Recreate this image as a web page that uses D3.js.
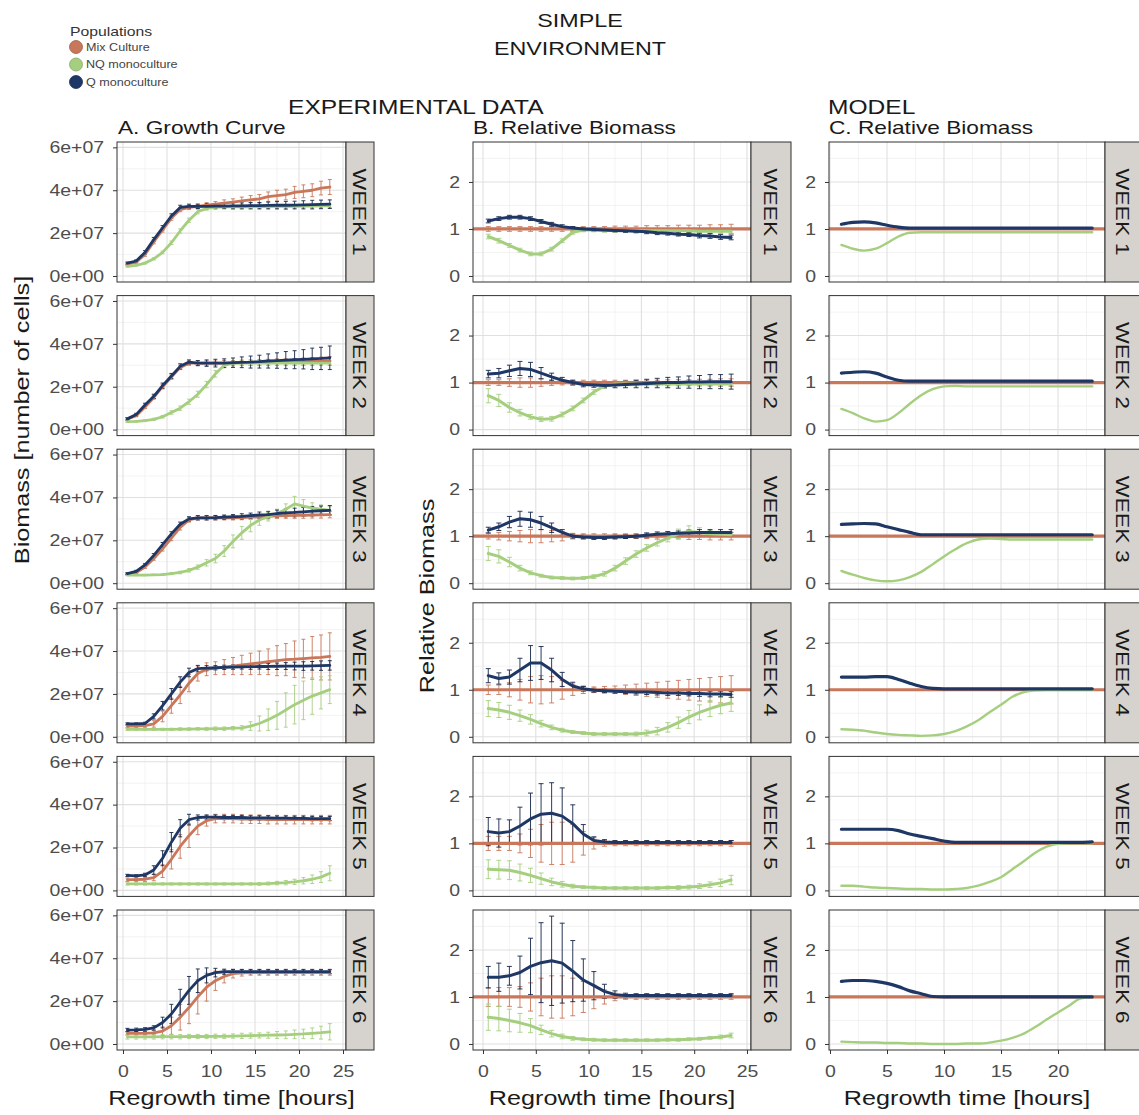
<!DOCTYPE html>
<html>
<head>
<meta charset="utf-8">
<script src="https://cdn.jsdelivr.net/npm/d3@7"></script>
<style>
  body { margin: 0; background: #fff; }
  svg { font-family: "Liberation Sans", Arial, sans-serif; }
</style>
</head>
<body>
<script>
"use strict";

// ---- data ----
const hoursExp = [0.5,1.5,2.5,3.5,4.5,5.5,6.5,7.5,8.5,9.5,10.5,11.5,12.5,13.5,14.5,15.5,16.5,17.5,18.5,19.5,20.5,21.5,22.5,23.5];
const hoursModel = [1,2,3,4,5,6,7,8,9,10,11,12,13,14,15,16,17,18,19,20,21,22,23];
const weekLabels = ["WEEK 1","WEEK 2","WEEK 3","WEEK 4","WEEK 5","WEEK 6"];
const populations = ["Mix Culture","NQ monoculture","Q monoculture"];
const popColors = ["#c8775a","#a5cf7f","#1e3765"];

const CELL_UNIT = 1e7; // growth values below are in 1e7 cells
const growthTicks = [0, 2e7, 4e7, 6e7];
const growthTickLabels = ["0e+00","2e+07","4e+07","6e+07"];
const relTicks = [0, 1, 2];
const hourTicksExp = [0, 5, 10, 15, 20, 25];
const hourTicksModel = [0, 5, 10, 15, 20];
const MIX_REL = 1;

// A. growth curve (mean, sd) per week
const growthMix = [
  [0.55,0.65,1.0,1.6,2.15,2.7,3.1,3.2,3.25,3.3,3.35,3.4,3.45,3.5,3.55,3.6,3.7,3.75,3.8,3.9,3.95,4.0,4.1,4.15],
  [0.5,0.65,1.05,1.5,2.0,2.45,2.9,3.1,3.1,3.1,3.1,3.1,3.1,3.12,3.12,3.13,3.14,3.15,3.15,3.16,3.17,3.18,3.19,3.2],
  [0.42,0.5,0.75,1.15,1.6,2.1,2.6,2.95,3.05,3.05,3.05,3.05,3.05,3.06,3.08,3.1,3.12,3.14,3.15,3.16,3.17,3.18,3.19,3.2],
  [0.5,0.5,0.52,0.6,0.95,1.45,1.95,2.5,2.95,3.15,3.2,3.25,3.3,3.35,3.4,3.45,3.5,3.55,3.6,3.62,3.65,3.68,3.7,3.75],
  [0.5,0.5,0.52,0.6,0.9,1.45,2.05,2.55,3.0,3.25,3.35,3.35,3.35,3.33,3.32,3.32,3.3,3.3,3.3,3.3,3.3,3.3,3.3,3.3],
  [0.5,0.5,0.5,0.52,0.6,0.85,1.25,1.7,2.2,2.65,2.95,3.15,3.28,3.32,3.33,3.33,3.33,3.33,3.33,3.33,3.33,3.33,3.33,3.33]
];
const growthMixSd = [
  [0.05,0.05,0.08,0.1,0.1,0.1,0.1,0.1,0.1,0.12,0.12,0.15,0.15,0.18,0.2,0.2,0.22,0.25,0.25,0.28,0.3,0.3,0.32,0.35],
  [0.05,0.05,0.07,0.08,0.1,0.1,0.1,0.1,0.1,0.1,0.1,0.12,0.12,0.12,0.13,0.13,0.14,0.15,0.15,0.16,0.17,0.18,0.19,0.2],
  [0.04,0.05,0.06,0.08,0.1,0.12,0.12,0.1,0.1,0.1,0.1,0.1,0.1,0.1,0.1,0.1,0.12,0.12,0.12,0.13,0.14,0.14,0.15,0.15],
  [0.08,0.08,0.1,0.15,0.25,0.35,0.4,0.4,0.35,0.3,0.3,0.35,0.4,0.45,0.5,0.55,0.6,0.7,0.75,0.85,0.9,1.0,1.05,1.1],
  [0.08,0.08,0.1,0.15,0.3,0.45,0.55,0.55,0.4,0.25,0.2,0.2,0.2,0.2,0.2,0.2,0.2,0.2,0.2,0.2,0.2,0.2,0.2,0.2],
  [0.08,0.08,0.08,0.1,0.2,0.4,0.6,0.75,0.8,0.65,0.45,0.3,0.2,0.15,0.12,0.12,0.12,0.12,0.12,0.12,0.12,0.12,0.12,0.12]
];
const growthNQ = [
  [0.45,0.5,0.6,0.8,1.1,1.55,2.1,2.6,3.0,3.15,3.2,3.22,3.22,3.23,3.23,3.24,3.24,3.25,3.25,3.25,3.26,3.26,3.27,3.27],
  [0.37,0.38,0.42,0.48,0.6,0.8,1.0,1.3,1.65,2.1,2.6,3.0,3.1,3.1,3.1,3.1,3.1,3.1,3.1,3.1,3.1,3.1,3.1,3.1],
  [0.38,0.38,0.38,0.39,0.4,0.45,0.5,0.6,0.75,0.95,1.15,1.5,1.95,2.35,2.7,2.95,3.1,3.25,3.45,3.7,3.6,3.5,3.45,3.4],
  [0.35,0.35,0.35,0.35,0.35,0.35,0.36,0.36,0.37,0.37,0.38,0.38,0.4,0.42,0.5,0.62,0.8,1.0,1.25,1.5,1.7,1.9,2.05,2.2],
  [0.3,0.3,0.3,0.3,0.3,0.3,0.3,0.3,0.3,0.3,0.3,0.3,0.3,0.3,0.3,0.3,0.32,0.34,0.36,0.4,0.45,0.52,0.62,0.8],
  [0.33,0.33,0.33,0.33,0.34,0.34,0.34,0.35,0.35,0.35,0.36,0.36,0.37,0.38,0.39,0.4,0.41,0.42,0.43,0.45,0.47,0.5,0.53,0.57]
];
const growthNQSd = [
  [0.03,0.03,0.04,0.05,0.06,0.08,0.1,0.1,0.1,0.08,0.08,0.08,0.08,0.08,0.08,0.08,0.08,0.08,0.08,0.08,0.08,0.08,0.08,0.08],
  [0.03,0.03,0.04,0.05,0.06,0.08,0.1,0.12,0.14,0.15,0.15,0.12,0.1,0.1,0.1,0.1,0.1,0.1,0.1,0.1,0.1,0.1,0.1,0.1],
  [0.03,0.03,0.03,0.03,0.04,0.05,0.06,0.08,0.1,0.15,0.2,0.25,0.3,0.3,0.3,0.25,0.2,0.2,0.25,0.35,0.3,0.25,0.2,0.2],
  [0.05,0.05,0.05,0.05,0.05,0.05,0.06,0.06,0.06,0.07,0.08,0.08,0.08,0.1,0.2,0.35,0.5,0.65,0.8,0.9,0.9,0.85,0.75,0.65],
  [0.05,0.05,0.05,0.05,0.05,0.05,0.05,0.05,0.05,0.05,0.05,0.05,0.05,0.05,0.05,0.06,0.07,0.08,0.1,0.12,0.15,0.2,0.25,0.35],
  [0.1,0.1,0.1,0.1,0.1,0.1,0.1,0.1,0.1,0.1,0.1,0.1,0.1,0.12,0.12,0.12,0.14,0.16,0.18,0.2,0.22,0.25,0.3,0.38]
];
const growthQ = [
  [0.6,0.7,1.1,1.7,2.25,2.8,3.2,3.25,3.25,3.25,3.26,3.26,3.27,3.27,3.28,3.28,3.29,3.3,3.3,3.31,3.32,3.33,3.34,3.35],
  [0.5,0.7,1.15,1.55,2.05,2.5,2.95,3.15,3.1,3.1,3.1,3.1,3.12,3.14,3.15,3.17,3.2,3.22,3.24,3.26,3.28,3.3,3.32,3.35],
  [0.45,0.55,0.85,1.3,1.8,2.3,2.75,3.0,3.05,3.05,3.06,3.08,3.1,3.12,3.15,3.18,3.2,3.25,3.28,3.3,3.33,3.36,3.38,3.4],
  [0.6,0.6,0.62,0.95,1.45,2.0,2.55,3.0,3.18,3.2,3.22,3.24,3.25,3.26,3.27,3.28,3.28,3.29,3.3,3.3,3.3,3.31,3.32,3.33],
  [0.7,0.68,0.72,0.95,1.5,2.25,2.9,3.3,3.4,3.42,3.42,3.4,3.4,3.4,3.38,3.38,3.38,3.37,3.37,3.36,3.36,3.35,3.35,3.35],
  [0.65,0.66,0.68,0.75,1.0,1.4,1.95,2.5,2.95,3.2,3.33,3.37,3.38,3.38,3.38,3.38,3.38,3.38,3.38,3.38,3.38,3.38,3.38,3.38]
];
const growthQSd = [
  [0.05,0.05,0.08,0.1,0.1,0.1,0.1,0.1,0.1,0.12,0.12,0.12,0.14,0.14,0.15,0.15,0.16,0.17,0.18,0.18,0.19,0.2,0.2,0.2],
  [0.05,0.06,0.08,0.1,0.12,0.12,0.12,0.1,0.12,0.15,0.18,0.2,0.22,0.25,0.28,0.3,0.33,0.36,0.4,0.42,0.45,0.5,0.52,0.55],
  [0.04,0.05,0.06,0.08,0.1,0.1,0.1,0.1,0.1,0.1,0.1,0.1,0.1,0.12,0.12,0.14,0.15,0.16,0.18,0.2,0.2,0.22,0.22,0.22],
  [0.05,0.05,0.06,0.12,0.2,0.25,0.25,0.2,0.15,0.12,0.1,0.1,0.1,0.1,0.12,0.12,0.14,0.15,0.16,0.18,0.2,0.2,0.22,0.22],
  [0.05,0.05,0.08,0.2,0.35,0.45,0.4,0.25,0.12,0.1,0.1,0.1,0.1,0.1,0.1,0.1,0.1,0.1,0.1,0.1,0.1,0.1,0.1,0.1],
  [0.08,0.08,0.08,0.1,0.25,0.45,0.6,0.65,0.55,0.35,0.2,0.12,0.1,0.1,0.1,0.1,0.1,0.1,0.1,0.1,0.1,0.1,0.1,0.1]
];

// B. relative biomass (mix mean is 1 by definition)
const relMixSd = [
  [0.05,0.05,0.05,0.05,0.05,0.05,0.05,0.05,0.05,0.05,0.05,0.05,0.06,0.06,0.06,0.07,0.07,0.07,0.08,0.08,0.08,0.09,0.09,0.1],
  [0.06,0.06,0.08,0.1,0.1,0.08,0.06,0.05,0.05,0.05,0.05,0.05,0.05,0.05,0.05,0.05,0.05,0.06,0.06,0.06,0.07,0.07,0.08,0.08],
  [0.06,0.08,0.1,0.12,0.14,0.14,0.12,0.1,0.06,0.05,0.05,0.05,0.05,0.05,0.05,0.05,0.06,0.06,0.06,0.07,0.07,0.08,0.08,0.08],
  [0.1,0.1,0.15,0.22,0.28,0.3,0.28,0.2,0.12,0.08,0.06,0.07,0.08,0.1,0.12,0.14,0.16,0.18,0.2,0.22,0.24,0.26,0.28,0.3],
  [0.15,0.15,0.15,0.2,0.3,0.4,0.45,0.45,0.4,0.25,0.12,0.06,0.05,0.05,0.05,0.05,0.05,0.05,0.05,0.05,0.05,0.05,0.05,0.06],
  [0.2,0.2,0.2,0.22,0.3,0.4,0.45,0.45,0.4,0.33,0.25,0.15,0.08,0.05,0.05,0.05,0.05,0.05,0.05,0.05,0.05,0.05,0.05,0.05]
];
const relNQ = [
  [0.84,0.75,0.65,0.55,0.47,0.47,0.57,0.75,0.93,0.98,0.98,0.97,0.97,0.97,0.96,0.96,0.96,0.96,0.96,0.96,0.95,0.95,0.95,0.95],
  [0.72,0.62,0.47,0.36,0.27,0.22,0.23,0.32,0.45,0.62,0.8,0.93,0.97,0.97,0.97,0.97,0.97,0.97,0.97,0.97,0.97,0.97,0.97,0.97],
  [0.63,0.57,0.45,0.32,0.22,0.16,0.12,0.11,0.1,0.11,0.14,0.2,0.32,0.47,0.62,0.75,0.86,0.96,1.05,1.1,1.08,1.05,1.04,1.03],
  [0.6,0.57,0.52,0.45,0.37,0.28,0.2,0.14,0.1,0.08,0.06,0.06,0.06,0.06,0.06,0.08,0.12,0.2,0.3,0.42,0.52,0.6,0.67,0.72],
  [0.45,0.44,0.43,0.38,0.32,0.25,0.18,0.13,0.09,0.07,0.06,0.05,0.05,0.05,0.05,0.05,0.05,0.06,0.06,0.07,0.09,0.12,0.16,0.22],
  [0.57,0.54,0.5,0.45,0.39,0.3,0.22,0.16,0.12,0.1,0.09,0.08,0.08,0.08,0.08,0.08,0.08,0.09,0.09,0.1,0.11,0.13,0.15,0.18]
];
const relNQSd = [
  [0.05,0.05,0.04,0.04,0.04,0.04,0.04,0.04,0.04,0.04,0.04,0.04,0.04,0.04,0.04,0.04,0.04,0.04,0.04,0.04,0.04,0.04,0.04,0.04],
  [0.15,0.13,0.1,0.07,0.05,0.05,0.05,0.05,0.05,0.05,0.05,0.05,0.04,0.04,0.04,0.04,0.04,0.04,0.04,0.04,0.04,0.04,0.04,0.04],
  [0.15,0.14,0.1,0.06,0.04,0.03,0.03,0.03,0.03,0.03,0.04,0.05,0.06,0.07,0.07,0.07,0.07,0.08,0.1,0.12,0.1,0.07,0.06,0.05],
  [0.17,0.16,0.15,0.12,0.1,0.07,0.05,0.04,0.03,0.03,0.03,0.03,0.03,0.03,0.04,0.06,0.08,0.1,0.12,0.14,0.16,0.17,0.18,0.18],
  [0.2,0.2,0.2,0.18,0.15,0.12,0.08,0.06,0.04,0.03,0.03,0.03,0.03,0.03,0.03,0.03,0.03,0.03,0.04,0.04,0.05,0.06,0.08,0.1],
  [0.28,0.26,0.24,0.2,0.15,0.1,0.07,0.05,0.04,0.03,0.03,0.03,0.03,0.03,0.03,0.03,0.03,0.03,0.03,0.03,0.03,0.03,0.04,0.05]
];
const relQ = [
  [1.17,1.22,1.25,1.25,1.22,1.16,1.1,1.05,1.02,1.0,0.99,0.98,0.97,0.96,0.95,0.94,0.92,0.91,0.89,0.88,0.86,0.85,0.83,0.82],
  [1.18,1.2,1.25,1.3,1.28,1.2,1.12,1.05,1.0,0.96,0.95,0.94,0.95,0.96,0.97,0.98,0.99,1.0,1.0,1.01,1.01,1.02,1.02,1.02],
  [1.13,1.2,1.3,1.37,1.35,1.28,1.18,1.08,1.0,0.98,0.97,0.97,0.98,0.99,1.0,1.02,1.04,1.05,1.06,1.07,1.08,1.08,1.08,1.08],
  [1.3,1.24,1.27,1.42,1.57,1.57,1.42,1.22,1.08,1.02,0.99,0.98,0.97,0.96,0.95,0.95,0.94,0.93,0.93,0.92,0.92,0.91,0.91,0.9],
  [1.25,1.22,1.25,1.37,1.52,1.62,1.64,1.58,1.42,1.2,1.06,1.03,1.02,1.02,1.02,1.02,1.02,1.02,1.02,1.02,1.02,1.02,1.02,1.02],
  [1.42,1.42,1.45,1.52,1.65,1.73,1.77,1.72,1.55,1.36,1.24,1.12,1.05,1.03,1.03,1.03,1.03,1.03,1.03,1.03,1.03,1.03,1.03,1.03]
];
const relQSd = [
  [0.04,0.04,0.04,0.04,0.04,0.04,0.04,0.04,0.03,0.03,0.03,0.03,0.03,0.03,0.03,0.04,0.04,0.04,0.04,0.04,0.05,0.05,0.05,0.05],
  [0.08,0.1,0.12,0.15,0.15,0.12,0.08,0.06,0.05,0.05,0.05,0.05,0.06,0.07,0.08,0.09,0.1,0.11,0.12,0.13,0.14,0.15,0.15,0.16],
  [0.06,0.08,0.12,0.16,0.16,0.14,0.1,0.06,0.04,0.04,0.04,0.04,0.04,0.04,0.04,0.05,0.05,0.05,0.05,0.06,0.06,0.06,0.06,0.06],
  [0.15,0.12,0.15,0.25,0.37,0.35,0.25,0.15,0.08,0.05,0.04,0.04,0.04,0.04,0.04,0.05,0.05,0.05,0.05,0.05,0.06,0.06,0.06,0.06],
  [0.3,0.3,0.25,0.4,0.55,0.65,0.65,0.6,0.4,0.2,0.08,0.05,0.04,0.04,0.04,0.04,0.04,0.04,0.04,0.04,0.04,0.04,0.04,0.04],
  [0.23,0.3,0.2,0.35,0.6,0.85,0.95,0.85,0.65,0.45,0.3,0.15,0.08,0.05,0.04,0.04,0.04,0.04,0.04,0.04,0.04,0.04,0.04,0.04]
];

// C. model relative biomass
const modelNQ = [
  [0.66,0.58,0.54,0.58,0.7,0.84,0.92,0.93,0.93,0.93,0.93,0.93,0.93,0.93,0.93,0.93,0.93,0.93,0.93,0.93,0.93,0.93,0.93],
  [0.44,0.35,0.24,0.17,0.2,0.35,0.55,0.73,0.86,0.92,0.93,0.92,0.92,0.92,0.92,0.92,0.92,0.92,0.92,0.92,0.92,0.92,0.92],
  [0.26,0.18,0.11,0.06,0.04,0.06,0.13,0.24,0.4,0.57,0.72,0.85,0.93,0.95,0.94,0.93,0.93,0.93,0.93,0.93,0.93,0.93,0.93],
  [0.16,0.15,0.13,0.09,0.06,0.04,0.03,0.02,0.03,0.06,0.12,0.22,0.35,0.52,0.68,0.85,0.95,0.99,1.0,1.0,1.0,1.0,1.0],
  [0.1,0.1,0.08,0.06,0.05,0.04,0.03,0.03,0.02,0.02,0.03,0.05,0.1,0.18,0.28,0.45,0.62,0.8,0.93,0.99,1.0,1.0,1.0],
  [0.05,0.04,0.03,0.03,0.02,0.02,0.01,0.01,0.0,0.0,0.0,0.01,0.01,0.03,0.07,0.13,0.22,0.36,0.52,0.67,0.82,0.97,1.0]
];
const modelQ = [
  [1.1,1.14,1.15,1.13,1.08,1.04,1.02,1.02,1.02,1.02,1.02,1.02,1.02,1.02,1.02,1.02,1.02,1.02,1.02,1.02,1.02,1.02,1.02],
  [1.2,1.22,1.23,1.2,1.12,1.05,1.03,1.03,1.03,1.03,1.03,1.03,1.03,1.03,1.03,1.03,1.03,1.03,1.03,1.03,1.03,1.03,1.03],
  [1.25,1.26,1.27,1.26,1.2,1.14,1.08,1.03,1.03,1.03,1.03,1.03,1.03,1.03,1.03,1.03,1.03,1.03,1.03,1.03,1.03,1.03,1.03],
  [1.27,1.27,1.27,1.28,1.28,1.22,1.14,1.07,1.03,1.02,1.02,1.02,1.02,1.02,1.02,1.02,1.02,1.02,1.02,1.02,1.02,1.02,1.02],
  [1.3,1.3,1.3,1.3,1.3,1.27,1.2,1.15,1.1,1.05,1.02,1.02,1.02,1.02,1.02,1.02,1.02,1.02,1.02,1.02,1.02,1.02,1.03],
  [1.33,1.35,1.35,1.33,1.29,1.22,1.13,1.07,1.01,1.0,1.0,1.0,1.0,1.0,1.0,1.0,1.0,1.0,1.0,1.0,1.0,1.0,1.0]
];

// ---- layout ----
const STRETCH = 1.26;      // text in the reference is drawn wide
const TICK_STRETCH = 1.18;
const ROW_TOP = 142, ROW_STEP = 153.6, PANEL_H = 140;

const columns = [
  { key: "A", x0: 117, x1: 346, stripW: 28, xDomain: [-0.68, 25.34], xTicks: hourTicksExp,
    xMinor: [2.5, 7.5, 12.5, 17.5, 22.5], yDomain: [-0.28e7, 6.25e7], yTicks: growthTicks,
    yMinor: [1e7, 3e7, 5e7], yFormat: (d, i) => growthTickLabels[i] },
  { key: "B", x0: 473, x1: 751, stripW: 40, xDomain: [-0.947, 25.38], xTicks: hourTicksExp,
    xMinor: [2.5, 7.5, 12.5, 17.5, 22.5], yDomain: [-0.128, 2.85], yTicks: relTicks,
    yMinor: [0.5, 1.5, 2.5], yFormat: d => d },
  { key: "C", x0: 829, x1: 1105, stripW: 36, xDomain: [-0.088, 24.12], xTicks: hourTicksModel,
    xMinor: [2.5, 7.5, 12.5, 17.5, 22.5], yDomain: [-0.128, 2.85], yTicks: relTicks,
    yMinor: [0.5, 1.5, 2.5], yFormat: d => d }
];

const svg = d3.select("body").append("svg")
  .attr("width", 1139).attr("height", 1115);
const defs = svg.append("defs");

function label(parent, text, x, y, opt) {
  opt = opt || {};
  return parent.append("text")
    .attr("transform", `translate(${x},${y}) rotate(${opt.rotate || 0}) scale(${opt.stretch || STRETCH},1)`)
    .attr("text-anchor", opt.anchor || "start")
    .attr("dominant-baseline", opt.baseline || "auto")
    .style("font-size", (opt.size || 18) + "px")
    .attr("fill", opt.color || "#1a1a1a")
    .text(text);
}

function errorBars(g, x, y, pts, color, cap, width) {
  g.append("g")
    .attr("stroke", color).attr("stroke-width", width).attr("fill", "none")
    .selectAll("path").data(pts).join("path")
    .attr("d", d => {
      const xx = x(d.t), lo = y(d.m - d.s), hi = y(d.m + d.s);
      return `M${xx},${lo}V${hi}M${xx - cap},${lo}H${xx + cap}M${xx - cap},${hi}H${xx + cap}`;
    });
}

function meanLine(g, x, y, pts, color, width, curve) {
  g.append("path").datum(pts)
    .attr("fill", "none").attr("stroke", color).attr("stroke-width", width)
    .attr("stroke-linejoin", "round").attr("stroke-linecap", "round")
    .attr("d", d3.line().x(d => x(d.t)).y(d => y(d.m)).curve(curve || d3.curveLinear));
}

function zipSeries(times, means, sds, k) {
  return times.map((t, i) => ({ t, m: means[i] * k, s: sds ? sds[i] * k : 0 }));
}

weekLabels.forEach((week, w) => {
  const top = ROW_TOP + ROW_STEP * w;
  const bottom = top + PANEL_H;

  columns.forEach(col => {
    const x = d3.scaleLinear().domain(col.xDomain).range([col.x0, col.x1]);
    const y = d3.scaleLinear().domain(col.yDomain).range([bottom, top]);
    const g = svg.append("g");
    const clipId = `clip-${col.key}-${w}`;
    defs.append("clipPath").attr("id", clipId).append("rect")
      .attr("x", col.x0).attr("y", top).attr("width", col.x1 - col.x0).attr("height", PANEL_H);

    // grid
    const grid = g.append("g");
    grid.selectAll(".vminor").data(col.xMinor.filter(v => x(v) < col.x1)).join("line")
      .attr("x1", d => x(d)).attr("x2", d => x(d)).attr("y1", top).attr("y2", bottom)
      .attr("stroke", "#eeeeee").attr("stroke-width", 0.7);
    grid.selectAll(".hminor").data(col.yMinor).join("line")
      .attr("x1", col.x0).attr("x2", col.x1).attr("y1", d => y(d)).attr("y2", d => y(d))
      .attr("stroke", "#eeeeee").attr("stroke-width", 0.7);
    grid.selectAll(".vmajor").data(col.xTicks.filter(v => x(v) < col.x1)).join("line")
      .attr("x1", d => x(d)).attr("x2", d => x(d)).attr("y1", top).attr("y2", bottom)
      .attr("stroke", "#e0e0e0").attr("stroke-width", 1.1);
    grid.selectAll(".hmajor").data(col.yTicks).join("line")
      .attr("x1", col.x0).attr("x2", col.x1).attr("y1", d => y(d)).attr("y2", d => y(d))
      .attr("stroke", "#e0e0e0").attr("stroke-width", 1.1);

    const data = g.append("g").attr("clip-path", `url(#${clipId})`);

    if (col.key === "A") {
      const mix = zipSeries(hoursExp, growthMix[w], growthMixSd[w], CELL_UNIT);
      const nq = zipSeries(hoursExp, growthNQ[w], growthNQSd[w], CELL_UNIT);
      const q = zipSeries(hoursExp, growthQ[w], growthQSd[w], CELL_UNIT);
      errorBars(data, x, y, mix, popColors[0], 2, 0.9);
      errorBars(data, x, y, nq, popColors[1], 2, 0.9);
      errorBars(data, x, y, q, "#14264a", 2, 0.9);
      meanLine(data, x, y, mix, popColors[0], 2.8);
      meanLine(data, x, y, nq, popColors[1], 2.8);
      meanLine(data, x, y, q, popColors[2], 2.8);
    } else if (col.key === "B") {
      const mix = hoursExp.map((t, i) => ({ t, m: MIX_REL, s: relMixSd[w][i] }));
      const nq = zipSeries(hoursExp, relNQ[w], relNQSd[w], 1);
      const q = zipSeries(hoursExp, relQ[w], relQSd[w], 1);
      errorBars(data, x, y, mix, popColors[0], 2.5, 0.9);
      errorBars(data, x, y, nq, popColors[1], 2.5, 0.9);
      errorBars(data, x, y, q, "#14264a", 2.5, 0.9);
      data.append("line")
        .attr("x1", col.x0).attr("x2", col.x1).attr("y1", y(MIX_REL)).attr("y2", y(MIX_REL))
        .attr("stroke", popColors[0]).attr("stroke-width", 3.2);
      meanLine(data, x, y, nq, popColors[1], 3);
      meanLine(data, x, y, q, popColors[2], 3);
    } else {
      data.append("line")
        .attr("x1", col.x0).attr("x2", col.x1).attr("y1", y(MIX_REL)).attr("y2", y(MIX_REL))
        .attr("stroke", popColors[0]).attr("stroke-width", 3.2);
      const nq = zipSeries(hoursModel, modelNQ[w], null, 1);
      const q = zipSeries(hoursModel, modelQ[w], null, 1);
      meanLine(data, x, y, nq, popColors[1], 2.4, d3.curveMonotoneX);
      meanLine(data, x, y, q, popColors[2], 3.2, d3.curveMonotoneX);
    }

    // panel border
    g.append("rect")
      .attr("x", col.x0).attr("y", top).attr("width", col.x1 - col.x0).attr("height", PANEL_H)
      .attr("fill", "none").attr("stroke", "#333").attr("stroke-width", 1);

    // strip
    g.append("rect")
      .attr("x", col.x1).attr("y", top).attr("width", col.stripW).attr("height", PANEL_H)
      .attr("fill", "#d6d3ce").attr("stroke", "#333").attr("stroke-width", 1);
    label(g, week, col.x1 + col.stripW / 2, top + PANEL_H / 2,
      { rotate: 90, anchor: "middle", baseline: "central", size: 18, stretch: 1.28 });

    // y axis
    const yAxis = g.append("g").attr("transform", `translate(${col.x0},0)`)
      .call(d3.axisLeft(y).tickValues(col.yTicks).tickSize(4).tickPadding(7).tickFormat(col.yFormat));
    yAxis.select(".domain").remove();
    yAxis.selectAll("line").attr("stroke", "#333");
    yAxis.selectAll("text").attr("fill", "#4d4d4d").style("font-size", "16.5px")
      .attr("transform", `scale(${TICK_STRETCH},1)`);

    // x axis on bottom row only
    if (w === weekLabels.length - 1) {
      const xAxis = g.append("g").attr("transform", `translate(0,${bottom})`)
        .call(d3.axisBottom(x).tickValues(col.xTicks).tickSize(4).tickPadding(11));
      xAxis.select(".domain").remove();
      xAxis.selectAll("line").attr("stroke", "#333");
      xAxis.selectAll("text").attr("fill", "#4d4d4d").style("font-size", "16.5px")
        .attr("transform", `scale(${TICK_STRETCH},1)`);
      label(svg, "Regrowth time [hours]", (col.x0 + col.x1) / 2, 1105, { anchor: "middle", size: 20 });
    }
  });
});

// ---- titles ----
label(svg, "SIMPLE", 580, 27, { anchor: "middle", size: 18.5 });
label(svg, "ENVIRONMENT", 580, 55, { anchor: "middle", size: 18.5 });
label(svg, "EXPERIMENTAL DATA", 288, 114, { size: 19.5 });
label(svg, "MODEL", 828, 114, { size: 19.5 });
label(svg, "A. Growth Curve", 118, 134, { size: 18 });
label(svg, "B. Relative Biomass", 473, 134, { size: 18 });
label(svg, "C. Relative Biomass", 829, 134, { size: 18 });

label(svg, "Biomass [number of cells]", 29, 420, { rotate: -90, anchor: "middle", size: 20 });
label(svg, "Relative Biomass", 434, 596, { rotate: -90, anchor: "middle", size: 20 });

// ---- legend ----
const legend = svg.append("g");
label(legend, "Populations", 70, 36, { size: 12.5, color: "#333" });
populations.forEach((p, i) => {
  const cy = 47 + i * 17.5;
  legend.append("circle").attr("cx", 76).attr("cy", cy).attr("r", 6.5)
    .attr("fill", popColors[i]).attr("stroke", d3.color(popColors[i]).darker(0.6)).attr("stroke-width", 0.8);
  label(legend, p, 86, cy + 3.5, { size: 10, color: "#444" });
});
</script>
</body>
</html>
